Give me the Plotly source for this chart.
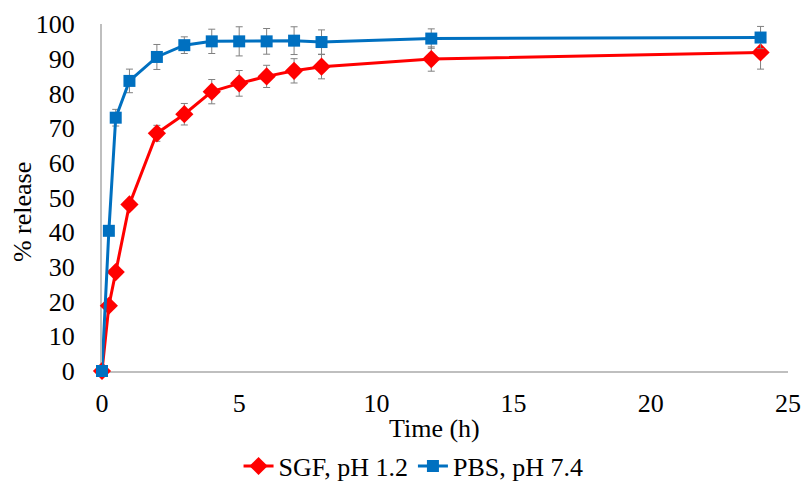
import plotly.graph_objects as go

time_h = [0, 0.25, 0.5, 1, 2, 3, 4, 5, 6, 7, 8, 12, 24]
sgf_release = [0, 18.8, 28.5, 48.0, 68.5, 74.0, 80.5, 82.9, 84.9, 86.5, 87.7, 89.9, 91.8]
sgf_err = [0, 0.5, 0.8, 1.0, 2.3, 3.1, 3.5, 3.7, 3.2, 3.5, 3.5, 3.5, 4.8]
pbs_release = [0, 40.4, 73.0, 83.6, 90.5, 93.9, 95.0, 95.0, 95.0, 95.2, 94.8, 95.8, 96.1]
pbs_err = [0, 0.5, 2.4, 3.4, 3.6, 2.4, 3.5, 4.2, 3.7, 4.0, 3.5, 2.8, 3.2]

x_ticks = [0, 5, 10, 15, 20, 25]
y_ticks = [0, 10, 20, 30, 40, 50, 60, 70, 80, 90, 100]

FONT = "Liberation Serif"
FS = 26

fig = go.Figure()
fig.add_trace(go.Scatter(
    x=time_h, y=sgf_release, name="SGF, pH 1.2", mode="lines+markers",
    line=dict(color="#FF0000", width=3),
    marker=dict(symbol="diamond", size=14, color="#FF0000"),
    error_y=dict(type="data", array=sgf_err, visible=True, color="#808080", thickness=1, width=3.5),
    cliponaxis=False,
))
fig.add_trace(go.Scatter(
    x=time_h, y=pbs_release, name="PBS, pH 7.4", mode="lines+markers",
    line=dict(color="#0070C0", width=3),
    marker=dict(symbol="square", size=12, color="#0070C0"),
    error_y=dict(type="data", array=pbs_err, visible=True, color="#808080", thickness=1, width=3.5),
    cliponaxis=False,
))

fig.update_layout(
    width=803, height=481,
    margin=dict(l=102, r=15, t=24, b=110, autoexpand=False),
    paper_bgcolor="white", plot_bgcolor="white",
    font=dict(family=FONT, size=FS, color="black"),
    showlegend=True,
    legend=dict(orientation="h", xref="container", x=0.515, xanchor="center",
                yref="container", y=0.031, yanchor="middle",
                font=dict(family=FONT, size=FS, color="black"), itemwidth=30, tracegroupgap=0),
    xaxis=dict(range=[0, 25], tickvals=x_ticks, showgrid=False, zeroline=False,
               showline=True, linecolor="#BFBFBF", linewidth=2, ticks="",
               automargin=False, ticklabelstandoff=8, layer="below traces",
               tickfont=dict(family=FONT, size=FS, color="black")),
    yaxis=dict(range=[0, 100], tickvals=y_ticks, showgrid=False, zeroline=False,
               showline=True, linecolor="#BFBFBF", linewidth=2, ticks="",
               automargin=False, ticklabelstandoff=20, layer="below traces",
               tickfont=dict(family=FONT, size=FS, color="black")),
    annotations=[
        dict(text="Time (h)", xref="paper", yref="paper", x=0.485, y=0, yshift=-57,
             xanchor="center", yanchor="middle", showarrow=False,
             font=dict(family=FONT, size=FS, color="black")),
        dict(text="% release", xref="paper", yref="paper", x=0, xshift=-80, y=0.458,
             xanchor="center", yanchor="middle", textangle=-90, showarrow=False,
             font=dict(family=FONT, size=FS, color="black")),
    ],
)

fig.write_html("out.html", config={"displayModeBar": False},
               post_script="document.body.style.margin='0';document.body.style.padding='0';")
